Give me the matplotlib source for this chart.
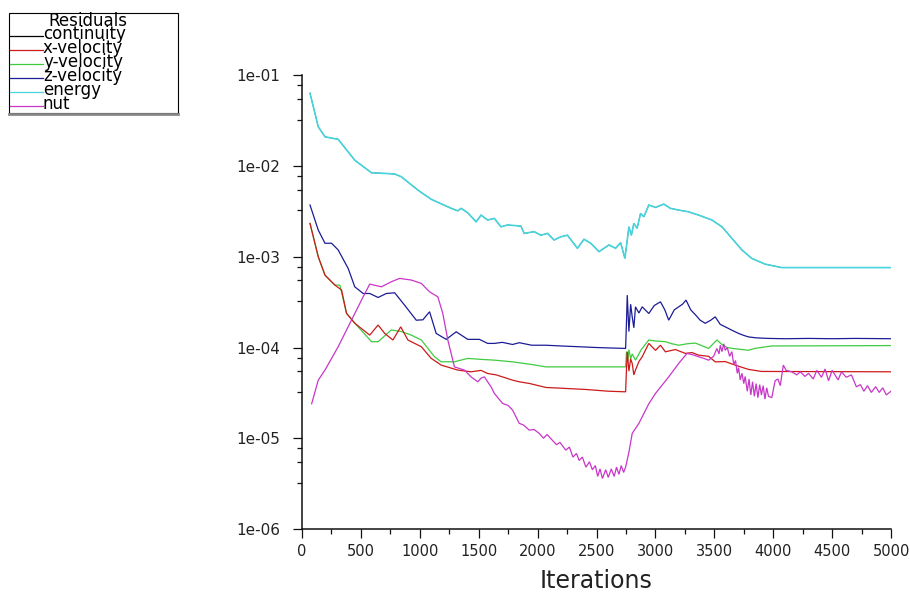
import matplotlib
matplotlib.use("Agg")
import matplotlib.pyplot as plt
from matplotlib.lines import Line2D
from matplotlib.patches import Rectangle
from matplotlib.ticker import FixedLocator, NullFormatter

# ---------------- data ----------------
series_names = ["continuity", "x-velocity", "y-velocity", "z-velocity", "energy", "nut"]
series_colors = ["#000000", "#cc1a1a", "#3fcc3f", "#1c1c96", "#48d4dc", "#c836c8"]

energy_it = [68, 138, 195, 307, 448, 590, 700, 787, 843, 984, 1097, 1266, 1322, 1351, 1407,
             1478, 1520, 1576, 1633, 1689, 1745, 1858, 1886, 1971, 2027, 2084, 2140, 2197, 2253,
             2338, 2394, 2451, 2521, 2606, 2662, 2705, 2741, 2761, 2775, 2796, 2817, 2845, 2874,
             2902, 2944, 3001, 3071, 3127, 3198, 3282, 3367, 3480, 3565, 3649, 3734, 3818, 3931,
             4072, 5000]
energy_val = [0.0634, 0.0271, 0.0210, 0.0197, 0.0116, 0.00843, 0.0083, 0.00817, 0.00762, 0.00543,
              0.00430, 0.00342, 0.00321, 0.00342, 0.00305, 0.00243, 0.00288, 0.00254, 0.00265,
              0.00214, 0.00224, 0.00218, 0.00181, 0.00189, 0.00173, 0.00181, 0.00153, 0.00166,
              0.00173, 0.00124, 0.00156, 0.00141, 0.00114, 0.00135, 0.00124, 0.00143, 0.00096,
              0.00153, 0.00214, 0.00173, 0.00233, 0.00206, 0.00301, 0.00276, 0.00372, 0.00350,
              0.00381, 0.00342, 0.00327, 0.00313, 0.00288, 0.00254, 0.00214, 0.00160, 0.00119,
              0.00096, 0.00083, 0.00076, 0.00076]

# continuity lies underneath the energy curve
continuity_it = list(energy_it)
continuity_val = list(energy_val)

zvel_it = [68, 138, 195, 251, 307, 392, 448, 519, 575, 646, 716, 787, 871, 970, 1026, 1083, 1139,
           1224, 1309, 1407, 1506, 1576, 1633, 1700, 1788, 1844, 1950, 2070, 2200, 2352, 2500,
           2600, 2747, 2755, 2761, 2775, 2790, 2803, 2817, 2831, 2860, 2888, 2944, 2990, 3043,
           3080, 3113, 3160, 3198, 3230, 3260, 3300, 3339, 3380, 3423, 3470, 3508, 3550, 3593,
           3650, 3706, 3750, 3790, 3850, 3900, 3960, 4100, 4300, 4500, 4700, 5000]
zvel_val = [0.00372, 0.00197, 0.00141, 0.00141, 0.00119, 0.000744, 0.000467, 0.000394, 0.000394,
            0.000356, 0.000394, 0.000401, 0.000293, 0.000200, 0.000202, 0.000248, 0.000143,
            0.000123, 0.000149, 0.000123, 0.000123, 0.000111, 0.000111, 0.000114, 0.000108,
            0.000113, 0.000106, 0.000106, 0.000104, 0.000102, 0.000100, 0.0000990, 0.0000977,
            0.000200, 0.000378, 0.000150, 0.000300, 0.000218, 0.000165, 0.000281, 0.000240,
            0.000281, 0.000237, 0.000290, 0.000319, 0.000260, 0.000200, 0.000260, 0.000281,
            0.000300, 0.000333, 0.000260, 0.000230, 0.000200, 0.000185, 0.000200, 0.000218,
            0.000180, 0.000169, 0.000155, 0.000143, 0.000136, 0.000131, 0.000128, 0.000127,
            0.000126, 0.000125, 0.000126, 0.000125, 0.000126, 0.000125]

yvel_it = [68, 138, 195, 279, 321, 378, 476, 590, 646, 758, 843, 928, 1013, 1125, 1182, 1294, 1407,
           1520, 1633, 1788, 1950, 2070, 2352, 2747, 2755, 2765, 2775, 2790, 2803, 2831, 2880,
           2944, 3000, 3085, 3140, 3198, 3270, 3339, 3400, 3452, 3522, 3565, 3610, 3649, 3706,
           3790, 3847, 3988, 5000]
yvel_val = [0.00233, 0.00100, 0.000628, 0.000488, 0.000488, 0.000238, 0.000169, 0.000116,
            0.000116, 0.000156, 0.000150, 0.000137, 0.000121, 0.0000791, 0.0000696, 0.0000696,
            0.0000759, 0.0000740, 0.0000726, 0.0000695, 0.0000650, 0.0000612, 0.0000612,
            0.0000612, 0.0000900, 0.0000700, 0.0000950, 0.0000750, 0.0000850, 0.0000726,
            0.0000950, 0.000121, 0.000118, 0.000116, 0.000110, 0.000106, 0.000110, 0.000112,
            0.000104, 0.0000977, 0.000121, 0.000108, 0.000100, 0.0000980, 0.0000960, 0.0000933,
            0.0000980, 0.000104, 0.000105]

xvel_it = [68, 138, 195, 279, 336, 378, 448, 575, 646, 702, 772, 838, 899, 1013, 1097, 1182, 1322,
           1435, 1520, 1576, 1647, 1788, 1844, 1929, 2070, 2239, 2408, 2600, 2747, 2755, 2761,
           2775, 2790, 2803, 2817, 2831, 2860, 2888, 2944, 3001, 3043, 3085, 3170, 3254, 3310,
           3367, 3452, 3508, 3593, 3677, 3790, 3900, 5000]
xvel_val = [0.00233, 0.00100, 0.000628, 0.000488, 0.000430, 0.000238, 0.000185, 0.000137,
            0.000177, 0.000143, 0.000121, 0.000169, 0.000121, 0.000102, 0.0000759, 0.0000640,
            0.0000564, 0.0000540, 0.0000560, 0.0000517, 0.0000500, 0.0000437, 0.0000419,
            0.0000402, 0.0000363, 0.0000354, 0.0000345, 0.0000330, 0.0000325, 0.0000600,
            0.0000900, 0.0000550, 0.0000750, 0.0000668, 0.0000500, 0.0000564, 0.0000700,
            0.0000791, 0.000111, 0.0000930, 0.000106, 0.0000897, 0.0000950, 0.0000861,
            0.0000880, 0.0000824, 0.0000800, 0.0000695, 0.0000700, 0.0000640, 0.0000574,
            0.0000545, 0.0000540]

nut_it = [82, 138, 195, 307, 420, 505, 575, 674, 758, 829, 928, 1013, 1083, 1153, 1195, 1238, 1294,
          1379, 1435, 1492, 1520, 1548, 1605, 1633, 1703, 1750, 1788, 1844, 1880, 1929, 1970,
          2014, 2050, 2080, 2126, 2160, 2190, 2239, 2270, 2300, 2330, 2352, 2380, 2410, 2440,
          2465, 2490, 2510, 2530, 2550, 2578, 2600, 2625, 2650, 2670, 2690, 2710, 2730, 2747,
          2775, 2803, 2860, 2888, 2944, 3001, 3060, 3113, 3198, 3268, 3320, 3367, 3410, 3452,
          3494, 3522, 3540, 3551, 3565, 3580, 3593, 3610, 3630, 3649, 3665, 3680, 3695, 3706,
          3720, 3735, 3750, 3762, 3780, 3795, 3810, 3825, 3840, 3855, 3870, 3885, 3900, 3915,
          3930, 3945, 3960, 3988, 4016, 4040, 4060, 4086, 4110, 4157, 4200, 4230, 4269, 4300,
          4340, 4370, 4410, 4440, 4470, 4500, 4551, 4580, 4620, 4664, 4706, 4740, 4770, 4800,
          4833, 4870, 4900, 4930, 4960, 5000]
nut_val = [0.0000240, 0.0000437, 0.0000564, 0.000102, 0.000200, 0.000333, 0.000500, 0.000467,
           0.000530, 0.000578, 0.000554, 0.000509, 0.000411, 0.000362, 0.000238, 0.000121,
           0.0000612, 0.0000564, 0.0000475, 0.0000419, 0.0000460, 0.0000475, 0.0000369,
           0.0000312, 0.0000242, 0.0000230, 0.0000204, 0.0000146, 0.0000140, 0.0000123,
           0.0000125, 0.0000113, 0.0000100, 0.0000110, 0.0000095, 0.0000085, 0.0000090,
           0.0000074, 0.0000080, 0.0000062, 0.0000068, 0.0000057, 0.0000062, 0.0000048,
           0.0000055, 0.0000045, 0.0000050, 0.0000038, 0.0000046, 0.0000036, 0.0000045,
           0.0000037, 0.0000046, 0.0000038, 0.0000048, 0.0000040, 0.0000050, 0.0000042,
           0.0000048, 0.0000070, 0.0000113, 0.0000146, 0.0000172, 0.0000240, 0.0000312,
           0.0000390, 0.0000475, 0.0000668, 0.0000861, 0.0000830, 0.0000791, 0.0000760,
           0.0000725, 0.0000800, 0.0000977, 0.0000850, 0.000106, 0.0000900, 0.000110,
           0.0000930, 0.000100, 0.0000800, 0.0000900, 0.0000650, 0.0000720, 0.0000520,
           0.0000600, 0.0000440, 0.0000520, 0.0000400, 0.0000480, 0.0000330, 0.0000450,
           0.0000300, 0.0000420, 0.0000290, 0.0000400, 0.0000280, 0.0000390, 0.0000300,
           0.0000380, 0.0000270, 0.0000360, 0.0000290, 0.0000280, 0.0000430, 0.0000450,
           0.0000380, 0.0000640, 0.0000560, 0.0000540, 0.0000500, 0.0000540, 0.0000480,
           0.0000520, 0.0000450, 0.0000560, 0.0000470, 0.0000580, 0.0000430, 0.0000560,
           0.0000440, 0.0000540, 0.0000470, 0.0000500, 0.0000369, 0.0000390, 0.0000330,
           0.0000380, 0.0000320, 0.0000370, 0.0000320, 0.0000360, 0.0000300, 0.0000330]

x_ticks = [0, 500, 1000, 1500, 2000, 2500, 3000, 3500, 4000, 4500, 5000]
y_ticks = [1e-6, 1e-5, 1e-4, 1e-3, 1e-2, 1e-1]
y_tick_labels = ["1e-06", "1e-05", "1e-04", "1e-03", "1e-02", "1e-01"]
legend_title = "Residuals"
x_label = "Iterations"

# ---------------- figure ----------------
W, H = 910, 599
fig = plt.figure(figsize=(W / 100, H / 100), dpi=100)
fig.patch.set_facecolor("white")
ax = fig.add_axes([302 / W, 1 - 529 / H, (891 - 302) / W, (529 - 75.3) / H])

data = {
    "continuity": (continuity_it, continuity_val),
    "x-velocity": (xvel_it, xvel_val),
    "y-velocity": (yvel_it, yvel_val),
    "z-velocity": (zvel_it, zvel_val),
    "energy": (energy_it, energy_val),
    "nut": (nut_it, nut_val),
}
colors = dict(zip(series_names, series_colors))
widths = {"continuity": 0.5, "energy": 1.2}
draw_order = ["continuity", "energy", "z-velocity", "y-velocity", "x-velocity", "nut"]
for name in draw_order:
    it, val = data[name]
    ax.plot(it, val, color=colors[name], lw=widths.get(name, 0.9), solid_joinstyle="miter")

ax.set_yscale("log")
ax.set_xlim(0, 5000)
ax.set_ylim(1e-6, 1e-1)

for s in ["top", "right"]:
    ax.spines[s].set_visible(False)
for s in ["left", "bottom"]:
    ax.spines[s].set_linewidth(1.1)
    ax.spines[s].set_color("#111111")

ax.xaxis.set_major_locator(FixedLocator(x_ticks))
ax.xaxis.set_minor_locator(FixedLocator([250 + 500 * i for i in range(10)]))
ax.set_xticklabels([str(t) for t in x_ticks])

ax.yaxis.set_major_locator(FixedLocator(y_ticks))
minor_y = []
for d in y_ticks[:-1]:
    for f in (3.25, 5.5, 7.75):
        minor_y.append(d * f)
ax.yaxis.set_minor_locator(FixedLocator(minor_y))
ax.yaxis.set_minor_formatter(NullFormatter())
ax.set_yticklabels(y_tick_labels)

ax.tick_params(axis="both", which="major", direction="out", length=6.5, width=0.9,
               color="#111111", labelsize=10.5, labelcolor="#222222")
ax.tick_params(axis="both", which="minor", direction="out", length=3.6, width=0.9,
               color="#111111")
ax.tick_params(axis="y", which="major", pad=9, labelsize=11)
ax.tick_params(axis="x", which="major", pad=4.5)

ax.set_xlabel(x_label, fontsize=17, color="#222222", labelpad=7)

# ---------------- legend box (figure pixels -> fractions) ----------------
def fx(px):
    return px / W

def fy(py):
    return 1 - py / H

fig.add_artist(Rectangle((fx(9), fy(113)), fx(178) - fx(9), fy(13) - fy(113),
                         transform=fig.transFigure, facecolor="white",
                         edgecolor="#000000", lw=0.8))
fig.add_artist(Line2D([fx(9), fx(178)], [fy(113.5), fy(113.5)], transform=fig.transFigure,
                      color="#888888", lw=2))
fig.text(fx(88), fy(21), legend_title, ha="center", va="center", fontsize=12, color="#000000")
row_y = [34, 48, 62, 76, 90, 104]
for name, ry in zip(series_names, row_y):
    fig.add_artist(Line2D([fx(10), fx(43)], [fy(ry + 2), fy(ry + 2)],
                          transform=fig.transFigure, color=colors[name], lw=0.9))
    fig.text(fx(43), fy(ry), name, ha="left", va="center", fontsize=12, color="#000000")

fig.savefig("out.png", dpi=100, facecolor="white")
